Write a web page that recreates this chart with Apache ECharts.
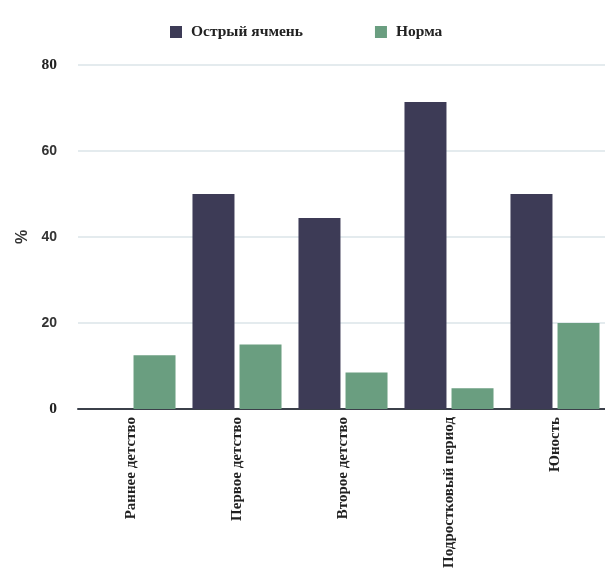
<!DOCTYPE html>
<html>
<head>
<meta charset="utf-8">
<script src="https://cdn.jsdelivr.net/npm/echarts@6/dist/echarts.min.js"></script>
<style>
  html, body { margin: 0; padding: 0; background: #ffffff; }
  #chart { width: 605px; height: 574px; }
</style>
</head>
<body>
<div id="chart"></div>
<script>
// Age periods on the x axis
const categories = ['Раннее детство', 'Первое детство', 'Второе детство', 'Подростковый период', 'Юность'];
// Share of cases, %
const acuteStye = [0, 50, 44.4, 71.4, 50];
const normal = [12.5, 15, 8.5, 4.8, 20];
// Series names
const seriesNames = ['Острый ячмень', 'Норма'];
// Value axis ticks
const yTicks = [0, 20, 40, 60, 80];

const serif = '"Liberation Serif", "DejaVu Serif", serif';
const sans = '"Liberation Sans", Arial, sans-serif';

const chart = echarts.init(document.getElementById('chart'), null, { renderer: 'canvas' });
chart.setOption({
  animation: false,
  backgroundColor: '#ffffff',
  legend: {
    top: 19,
    left: 165,
    itemWidth: 12,
    itemHeight: 12,
    itemGap: 72,
    icon: 'rect',
    textStyle: { fontFamily: serif, fontWeight: 'bold', fontSize: 15.5, color: '#222222', padding: [0, 0, 0, 4] },
    data: seriesNames
  },
  grid: { left: 78, right: -3, top: 65, bottom: 165, containLabel: false, outerBoundsMode: 'none' },
  xAxis: {
    type: 'category',
    data: categories,
    axisLine: { show: true, lineStyle: { color: '#3b404a', width: 2 } },
    axisTick: { show: false },
    axisLabel: {
      rotate: 90,
      margin: 8,
      fontFamily: serif,
      fontWeight: 'bold',
      fontSize: 15,
      color: '#222222'
    }
  },
  yAxis: {
    type: 'value',
    min: yTicks[0],
    max: yTicks[yTicks.length - 1],
    interval: 20,
    name: '%',
    nameLocation: 'middle',
    nameRotate: 90,
    nameGap: 47,
    nameTextStyle: { fontFamily: sans, fontWeight: 'bold', fontSize: 16, color: '#333333' },
    axisLine: { show: false },
    axisTick: { show: false },
    splitLine: { lineStyle: { color: '#dbe4e8', width: 1.5 } },
    axisLabel: {
      margin: 21,
      fontFamily: sans,
      fontWeight: 'bold',
      fontSize: 14,
      color: '#333333',
      formatter: function (v) {
        return (v === 0 || v === 80) ? '{s|' + v + '}' : '{n|' + v + '}';
      },
      rich: {
        s: { fontFamily: serif, fontWeight: 'bold', fontSize: 15.5, color: '#222222' },
        n: { fontFamily: sans, fontWeight: 'bold', fontSize: 14, color: '#333333' }
      }
    }
  },
  series: [
    {
      name: seriesNames[0],
      type: 'bar',
      data: acuteStye,
      barWidth: 42,
      barGap: '12%',
      itemStyle: { color: '#3d3b56' }
    },
    {
      name: seriesNames[1],
      type: 'bar',
      data: normal,
      barWidth: 42,
      barGap: '12%',
      itemStyle: { color: '#6a9e80' }
    }
  ]
});
</script>
</body>
</html>
